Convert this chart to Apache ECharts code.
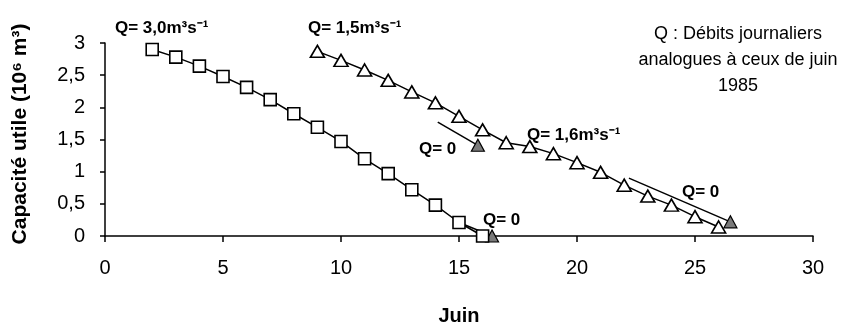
<!DOCTYPE html>
<html>
<head>
<meta charset="utf-8">
<script src="https://cdn.jsdelivr.net/npm/echarts@6/dist/echarts.min.js"></script>
<style>html,body{margin:0;padding:0;background:#fff}#c{width:850px;height:330px}</style>
</head>
<body>
<div id="c"></div>
<script>
// ---- data ----
var xTicks = [0, 5, 10, 15, 20, 25, 30];
var yTickLabels = ['0', '0,5', '1', '1,5', '2', '2,5', '3'];
// Q = 3,0 m3/s (squares), days 2..16
var sqDays = [2, 3, 4, 5, 6, 7, 8, 9, 10, 11, 12, 13, 14, 15, 16];
var sqVals = [2.9, 2.78, 2.64, 2.48, 2.31, 2.12, 1.9, 1.69, 1.47, 1.2, 0.97, 0.72, 0.48, 0.21, 0.0];
// Q = 1,5 then 1,6 m3/s (triangles), days 9..26
var triDays = [9, 10, 11, 12, 13, 14, 15, 16, 17, 18, 19, 20, 21, 22, 23, 24, 25, 26];
var triVals = [2.87, 2.73, 2.58, 2.42, 2.24, 2.07, 1.86, 1.65, 1.45, 1.39, 1.28, 1.14, 0.99, 0.79, 0.62, 0.48, 0.3, 0.14];
// Q = 0 branches (start, end)
var q0aDays = [14.1, 15.8]; var q0aVals = [1.77, 1.41];
var q0bDays = [15.0, 16.4]; var q0bVals = [0.21, 0.0];
var q0cDays = [22.2, 26.5]; var q0cVals = [0.9, 0.22];

var chart = echarts.init(document.getElementById('c'), null, {renderer: 'canvas'});
function pairs(xs, ys) { return xs.map(function (x, i) { return [x, ys[i]]; }); }
function branch(xs, ys) {
  var d = pairs(xs, ys);
  return d.map(function (p, i) { return {value: p, symbol: i === d.length - 1 ? 'triangle' : 'none'}; });
}
var FONT = '"Liberation Sans", Arial, Helvetica, sans-serif';
var lineStyle = {color: '#000', width: 1.5};
var q0Series = [[q0aDays, q0aVals], [q0bDays, q0bVals], [q0cDays, q0cVals]].map(function (b) {
  return {
    type: 'line', data: branch(b[0], b[1]), symbolSize: [13, 12], z: 3,
    lineStyle: lineStyle, itemStyle: {color: '#7a7a7a', borderColor: '#000', borderWidth: 1.2},
    animation: false, silent: true
  };
});

chart.setOption({
  animation: false,
  backgroundColor: '#fff',
  grid: {left: 105, right: 37, top: 43, bottom: 94, containLabel: false},
  xAxis: {
    type: 'value', min: 0, max: 30, interval: 5,
    axisLine: {lineStyle: {color: '#000', width: 1.5}},
    axisTick: {show: true, length: 6, lineStyle: {color: '#000', width: 1.5}},
    axisLabel: {color: '#000', fontSize: 20, fontFamily: FONT, margin: 22,
      formatter: function (v) { return xTicks.indexOf(v) >= 0 ? String(v) : ''; }},
    splitLine: {show: false}
  },
  yAxis: {
    type: 'value', min: 0, max: 3, interval: 0.5,
    axisLine: {show: true, lineStyle: {color: '#000', width: 1.5}},
    axisTick: {show: true, length: 5, lineStyle: {color: '#000', width: 1.5}},
    axisLabel: {color: '#000', fontSize: 20, fontFamily: FONT, margin: 20,
      formatter: function (v) { return yTickLabels[Math.round(v * 2)]; }},
    splitLine: {show: false}
  },
  series: [
    {type: 'line', data: pairs(sqDays, sqVals), symbol: 'rect', symbolSize: 12,
      lineStyle: lineStyle, itemStyle: {color: '#fff', borderColor: '#000', borderWidth: 1.6}, z: 4},
    {type: 'line', data: pairs(triDays, triVals), symbol: 'triangle', symbolSize: [14, 12],
      lineStyle: lineStyle, itemStyle: {color: '#fff', borderColor: '#000', borderWidth: 1.6}, z: 4}
  ].concat(q0Series),
  graphic: [
    {type: 'text', x: 20, y: 134, rotation: Math.PI / 2,
      style: {text: 'Capacité utile (10⁶ m³)', fill: '#000', font: 'bold 21px ' + FONT, textAlign: 'center', textVerticalAlign: 'middle'}},
    {type: 'text', x: 459, y: 316,
      style: {text: 'Juin', fill: '#000', font: 'bold 20px ' + FONT, textAlign: 'center', textVerticalAlign: 'middle'}},
    {type: 'text', x: 738, y: 21,
      style: {text: 'Q : Débits journaliers\nanalogues à ceux de juin\n1985', fill: '#000', font: '18px ' + FONT, textAlign: 'center', textVerticalAlign: 'top', lineHeight: 26}},
    {type: 'text', x: 115, y: 28, style: {text: 'Q= 3,0m³s⁻¹', fill: '#000', font: 'bold 17px ' + FONT, textVerticalAlign: 'middle'}},
    {type: 'text', x: 308, y: 28, style: {text: 'Q= 1,5m³s⁻¹', fill: '#000', font: 'bold 17px ' + FONT, textVerticalAlign: 'middle'}},
    {type: 'text', x: 527, y: 135, style: {text: 'Q= 1,6m³s⁻¹', fill: '#000', font: 'bold 17px ' + FONT, textVerticalAlign: 'middle'}},
    {type: 'text', x: 419, y: 149, style: {text: 'Q= 0', fill: '#000', font: 'bold 17px ' + FONT, textVerticalAlign: 'middle'}},
    {type: 'text', x: 483, y: 220, style: {text: 'Q= 0', fill: '#000', font: 'bold 17px ' + FONT, textVerticalAlign: 'middle'}},
    {type: 'text', x: 682, y: 192, style: {text: 'Q= 0', fill: '#000', font: 'bold 17px ' + FONT, textVerticalAlign: 'middle'}}
  ]
});
</script>
</body>
</html>
